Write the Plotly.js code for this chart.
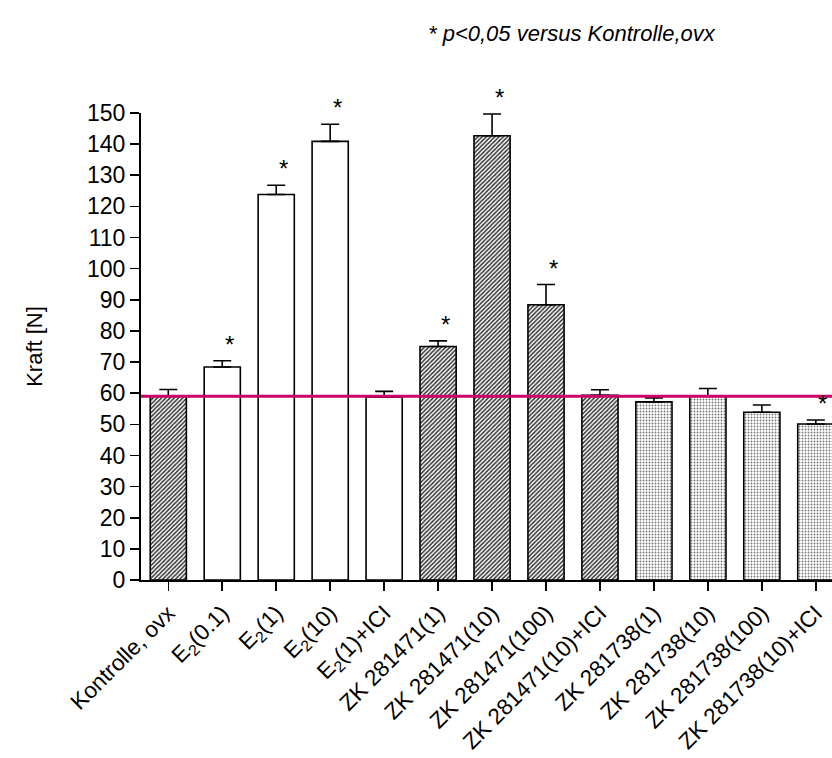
<!DOCTYPE html>
<html>
<head>
<meta charset="utf-8">
<script src="https://cdn.plot.ly/plotly-3.0.1.min.js"></script>
<style>html,body{margin:0;padding:0;background:#fff;}#chart{width:832px;height:758px;}</style>
</head>
<body>
<div id="chart"></div>
<script>
// ---- data ----
const categories = [
  "Kontrolle, ovx", "E<sub>2</sub>(0.1)", "E<sub>2</sub>(1)", "E<sub>2</sub>(10)", "E<sub>2</sub>(1)+ICI",
  "ZK 281471(1)", "ZK 281471(10)", "ZK 281471(100)", "ZK 281471(10)+ICI",
  "ZK 281738(1)", "ZK 281738(10)", "ZK 281738(100)", "ZK 281738(10)+ICI"
];
const means = [59.0, 68.4, 123.8, 140.9, 58.8, 75.0, 142.7, 88.4, 59.3, 57.2, 59.0, 53.9, 50.1];
const sem   = [2.2, 2.0, 3.0, 5.5, 1.8, 1.8, 7.0, 6.5, 1.8, 1.3, 2.5, 2.3, 1.3];
const significant = [false, true, true, true, false, true, true, true, false, false, false, false, true];
const groups = ["ctrl", "e2", "e2", "e2", "e2", "zk471", "zk471", "zk471", "zk471", "zk738", "zk738", "zk738", "zk738"];
const yTicks = [0,10,20,30,40,50,60,70,80,90,100,110,120,130,140,150];
const noteText = "* p&lt;0,05 versus Kontrolle,ovx";
const yTitle = "Kraft [N]";

// ---- styles ----
const FONT = "Liberation Sans, Arial, sans-serif";
const patternShape = {ctrl: "/", e2: "", zk471: "/", zk738: "."};
const patternFg = {ctrl: "#333333", e2: "#ffffff", zk471: "#333333", zk738: "#777777"};
const patternSol = {ctrl: 0.5, e2: 0.3, zk471: 0.5, zk738: 0.3};

const xIdx = categories.map((c, i) => i);

const barTrace = {
  type: "bar",
  x: xIdx,
  y: means,
  width: 0.67,
  marker: {
    color: "#ffffff",
    line: {color: "#000000", width: 1.6},
    pattern: {
      shape: groups.map(g => patternShape[g]),
      fgcolor: groups.map(g => patternFg[g]),
      bgcolor: "#ffffff",
      size: 3,
      solidity: groups.map(g => patternSol[g]),
      fillmode: "replace"
    }
  },
  error_y: {
    type: "data",
    symmetric: false,
    array: sem,
    arrayminus: sem.map(() => 0),
    color: "#000000",
    thickness: 1.6,
    width: 9
  },
  hoverinfo: "x+y",
  showlegend: false
};

const starAnnotations = [];
xIdx.forEach(i => {
  if (significant[i]) {
    starAnnotations.push({
      x: i, y: means[i] + sem[i], xref: "x", yref: "y",
      text: "*", showarrow: false,
      xanchor: "center", yanchor: "bottom",
      xshift: 7, yshift: 1,
      font: {family: FONT, size: 24, color: "#000"}
    });
  }
});

const layout = {
  width: 832, height: 758,
  margin: {l: 141, r: 0, t: 113, b: 178},
  paper_bgcolor: "#ffffff",
  plot_bgcolor: "#ffffff",
  font: {family: FONT, size: 23, color: "#000"},
  showlegend: false,
  xaxis: {
    range: [-0.506, 12.3],
    tickmode: "array",
    tickvals: xIdx,
    ticktext: categories,
    tickangle: -45,
    ticks: "outside", ticklen: 9, tickwidth: 1.6, tickcolor: "#000",
    showline: true, linecolor: "#000", linewidth: 2,
    showgrid: false, zeroline: false,
    tickfont: {size: 22.5, family: FONT},
    automargin: false
  },
  yaxis: {
    range: [0, 150],
    tickmode: "array",
    tickvals: yTicks,
    ticks: "outside", ticklen: 9, tickwidth: 1.6, tickcolor: "#000",
    showline: true, linecolor: "#000", linewidth: 2,
    showgrid: false, zeroline: false,
    tickfont: {size: 23, family: FONT},
    title: {text: yTitle, font: {size: 22, family: FONT}, standoff: 38},
    automargin: false
  },
  shapes: [{
    type: "line", xref: "paper", yref: "y",
    x0: 0, x1: 1, y0: means[0], y1: means[0],
    line: {color: "#cc0066", width: 3},
    layer: "above"
  }],
  annotations: starAnnotations.concat([{
    xref: "paper", yref: "paper",
    x: 0.412, y: 1.171, xanchor: "left", yanchor: "middle",
    text: "<i>" + noteText + "</i>", showarrow: false,
    font: {size: 22, family: FONT, color: "#000"}
  }])
};

Plotly.newPlot("chart", [barTrace], layout, {displayModeBar: false, staticPlot: true});
</script>
</body>
</html>
